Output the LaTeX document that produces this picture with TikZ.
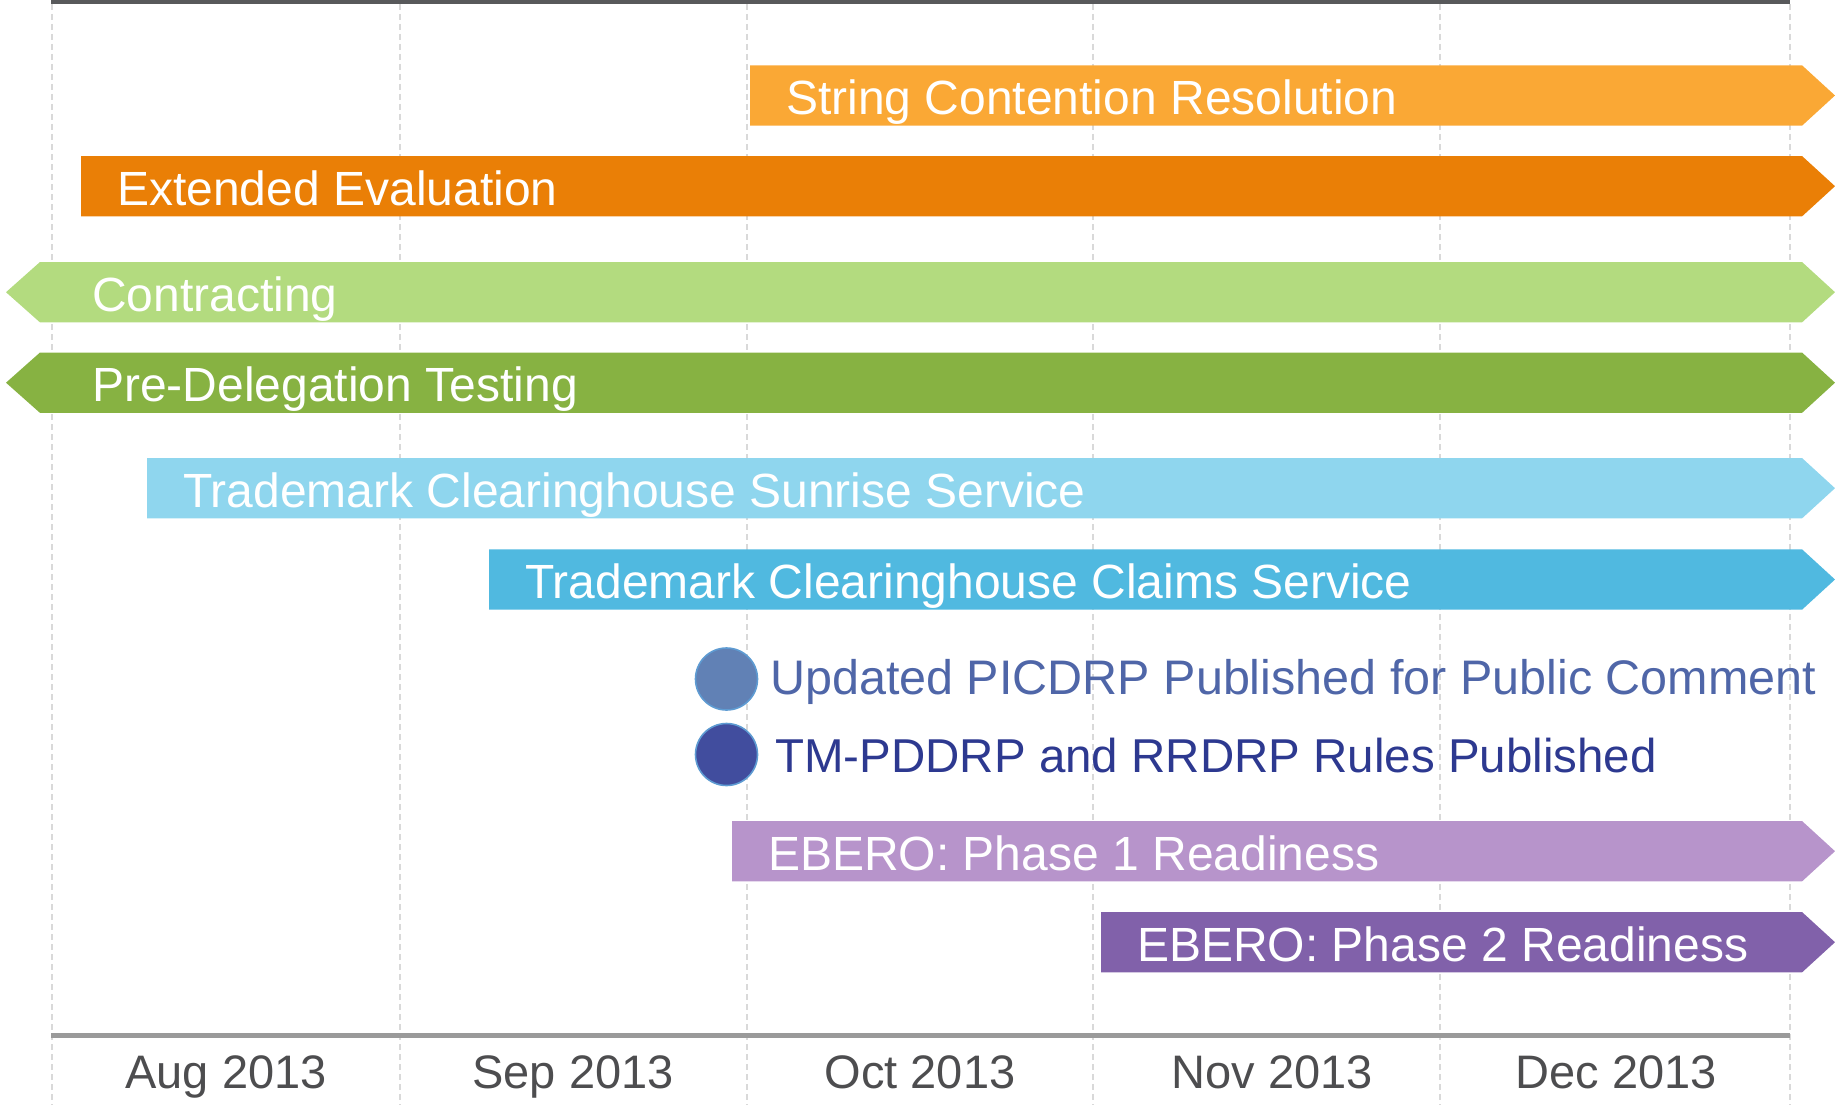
\documentclass[tikz,border=0pt]{standalone}
\usepackage{fontspec}
\setmainfont{Liberation Sans}
\definecolor{cString}{HTML}{FAA835}
\definecolor{cExt}{HTML}{EA7F06}
\definecolor{cContr}{HTML}{B3DB7F}
\definecolor{cPDT}{HTML}{87B242}
\definecolor{cSun}{HTML}{8FD6EE}
\definecolor{cClaims}{HTML}{50B9E0}
\definecolor{cEbA}{HTML}{B794CB}
\definecolor{cEbB}{HTML}{8161AA}
\definecolor{cUpd}{HTML}{4F66A8}
\definecolor{cTM}{HTML}{2D3990}
\definecolor{cDotA}{HTML}{6181B5}
\definecolor{cDotB}{HTML}{414D9E}
\definecolor{cDotRim}{HTML}{5E9BD2}
\definecolor{cTop}{HTML}{58595B}
\definecolor{cAxis}{HTML}{9A9A9A}
\definecolor{cGrid}{HTML}{D9D9D9}
\definecolor{cMonth}{HTML}{4D4D4F}
\newcommand\rbar[5]{%
  \fill[#4] (#2,#3) -- (1802,#3) -- (1835,#3+30.2) -- (1802,#3+60.4) -- (#2,#3+60.4) -- cycle;
  \node[bartext] (#1) at (#2+36,#3+49) {#5};}
\newcommand\lrbar[4]{%
  \fill[#3] (40,#2) -- (1802,#2) -- (1835,#2+30.2) -- (1802,#2+60.4) -- (40,#2+60.4) -- (6,#2+30.2) -- cycle;
  \node[bartext] (#1) at (92,#2+49) {#4};}
\begin{document}
\begin{tikzpicture}[x=1pt,y=-1pt,
  bartext/.style={anchor=base west,inner sep=0pt,text=white,font=\fontsize{48}{48}\selectfont},
  month/.style={anchor=base,inner sep=0pt,text=cMonth,font=\fontsize{47}{47}\selectfont},
  mstext/.style={anchor=base west,inner sep=0pt,font=\fontsize{48}{48}\selectfont},
  dot/.style={circle,minimum size=62pt,inner sep=0pt,draw=cDotRim,line width=1.6pt},
  grid/.style={cGrid,line width=2pt,dash pattern=on 6pt off 4pt}]
\useasboundingbox (0,0) rectangle (1835,1105);
% grid
\foreach \gx in {52,400,747,1093,1440,1790}
  \draw[grid] (\gx,4) -- (\gx,1105);
% top and axis lines
\fill[cTop] (51,0) rectangle (1790,4.3);
\fill[cAxis] (51,1033) rectangle (1790,1037.5);
% bars
\rbar{scr}{750}{65.3}{cString}{String Contention Resolution}
\rbar{ext}{81}{156}{cExt}{Extended Evaluation}
\lrbar{con}{262}{cContr}{Contracting}
\lrbar{pdt}{352.5}{cPDT}{Pre-Delegation Testing}
\rbar{sun}{147}{458}{cSun}{Trademark Clearinghouse Sunrise Service}
\rbar{clm}{489}{549.3}{cClaims}{Trademark Clearinghouse Claims Service}
\rbar{ebA}{732}{821}{cEbA}{EBERO: Phase 1 Readiness}
\rbar{ebB}{1101}{912}{cEbB}{EBERO: Phase 2 Readiness}
% milestones
\node[dot,fill=cDotA] (m1) at (726.5,679) {};
\node[dot,fill=cDotB] (m2) at (726.5,754.5) {};
\node[mstext,text=cUpd,font=\fontsize{48.5}{48.5}\selectfont] (t1) at (770,694) {Updated PICDRP Published for Public Comment};
\node[mstext,text=cTM,font=\fontsize{47.5}{47.5}\selectfont] (t2) at (775,772.5) {TM-PDDRP and RRDRP Rules Published};
% months
\node[month] (aug) at (226,1088.5) {Aug 2013};
\node[month] (sep) at (573,1088.5) {Sep 2013};
\node[month] (oct) at (920,1088.5) {Oct 2013};
\node[month] (nov) at (1272,1088.5) {Nov 2013};
\node[month] (dec) at (1616,1088.5) {Dec 2013};
\end{tikzpicture}
\end{document}
